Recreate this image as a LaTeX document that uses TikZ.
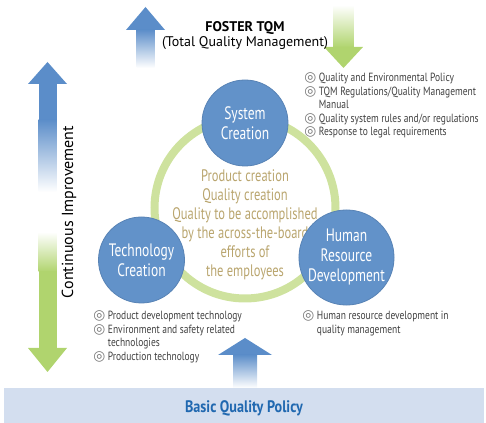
\documentclass[tikz,border=0pt]{standalone}
\usepackage{fontspec}
\setmainfont{PT Sans}
\newfontfamily\narrowfont{PT Sans}[FakeStretch=0.75]
\newfontfamily\barfont{PT Sans}[FakeStretch=0.85]
\newfontfamily\itemfont{PT Sans}[FakeStretch=0.8]
\newfontfamily\symfont{DejaVu Sans}
\definecolor{circblue}{RGB}{98,146,201}
\definecolor{arrblue}{RGB}{91,141,201}
\definecolor{arrgreen}{RGB}{176,212,110}
\definecolor{ringgreen}{RGB}{206,226,158}
\definecolor{gold}{RGB}{185,165,110}
\definecolor{barblue}{RGB}{211,222,239}
\definecolor{bartext}{RGB}{32,104,176}
\definecolor{itemgray}{RGB}{64,64,64}
\definecolor{symgray}{RGB}{120,120,120}
\newcommand{\bul}{{\fontsize{10.3}{10}\symfont\color{symgray}\char"25CE}\hspace{2pt}}

\begin{document}
\begin{tikzpicture}[x=0.75pt,y=-0.75pt,
  unit/.style={circle,fill=circblue,draw=circblue!90!black,line width=0.6pt,text=white,
    minimum size=64.5pt,inner sep=0pt,align=center,font=\fontsize{13.5}{15}\narrowfont},
  ring/.style={draw=ringgreen,line width=6pt},
  items/.style={anchor=north west,inner sep=0pt,align=left,text=itemgray,
    font=\fontsize{8.9}{10.1}\itemfont}]
  \useasboundingbox (0,0) rectangle (486,423);
  \fill[barblue] (4,388) rectangle (484,423);
  \node[font=\fontsize{12.5}{14}\barfont\bfseries,text=bartext] (policy) at (244,408) {Basic Quality Policy};
  \fill[arrblue] (126,30) -- (145.5,7) -- (165,30) -- cycle;
  \shade[top color=arrblue,bottom color=white] (136.5,29.5) rectangle (154.5,68);
  \shade[top color=white,bottom color=arrgreen] (333.5,5) rectangle (353.5,47.5);
  \fill[arrgreen] (324,47) -- (343.5,68) -- (363,47) -- cycle;
  \node[align=center,font=\fontsize{10.5}{11.3}\selectfont] (tqm) at (245,35.5) {\textbf{FOSTER TQM}\\(Total Quality Management)};
  \fill[arrblue] (28,84) -- (47.5,62) -- (67,84) -- cycle;
  \fill[arrblue] (38.5,83.5) rectangle (56.5,120);
  \shade[top color=arrblue,bottom color=white] (38.5,119.5) rectangle (56.5,192);
  \shade[top color=white,bottom color=arrgreen] (38.5,232) rectangle (56.5,272);
  \fill[arrgreen] (38.5,271.5) rectangle (56.5,348.5);
  \fill[arrgreen] (28,348) -- (47.5,372) -- (67,348) -- cycle;
  \node[rotate=90,font=\fontsize{12}{14}\selectfont] (improve) at (69,212) {Continuous Improvement};
  \fill[arrblue] (218,355) -- (245,338) -- (272,355) -- cycle;
  \shade[top color=arrblue,bottom color=white] (233,354.5) rectangle (257,388);
  \draw[ring] (245,208) circle [radius=90.5];
  \node[align=center,text=gold,font=\fontsize{12.5}{14.3}\narrowfont] (core) at (245,225)
    {Product creation\\Quality creation\\Quality to be accomplished\\by the across-the-board\\efforts of\\the employees};
  \node[unit] (sys) at (245,123) {System\\Creation};
  \node[unit] (tech) at (141.5,260) {Technology\\Creation};
  \node[unit] (hr) at (346.5,257.5) {Human\\Resource\\Development};
  \node[items] (sysitems) at (304,72.5) {\bul Quality and Environmental Policy\\\bul TQM Regulations/Quality Management\\\hphantom{\bul}Manual\\\bul Quality system rules and/or regulations\\\bul Response to legal requirements};
  \node[items] (techitems) at (93,310.5) {\bul Product development technology\\\bul Environment and safety related\\\hphantom{\bul}technologies\\\bul Production technology};
  \node[items] (hritems) at (302,310.5) {\bul Human resource development in\\\hphantom{\bul}quality management};
\end{tikzpicture}
\end{document}
